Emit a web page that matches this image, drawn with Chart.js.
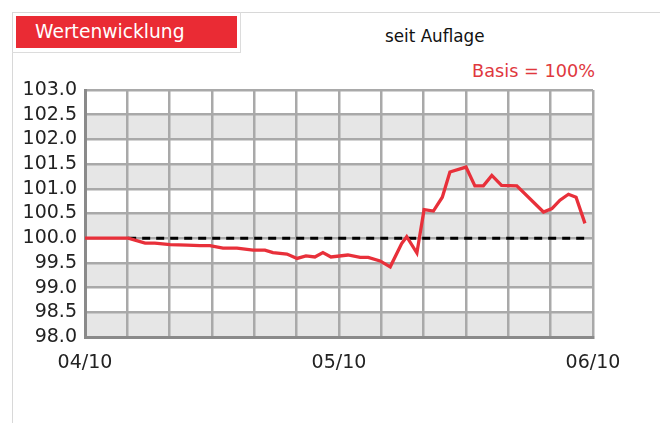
<!DOCTYPE html>
<html>
<head>
<meta charset="utf-8">
<script src="https://cdn.jsdelivr.net/npm/chart.js@4/dist/chart.umd.min.js"></script>
<style>
  body { margin: 0; background: #fff; font-family: "DejaVu Sans", Verdana, sans-serif; }
  #wrap { position: relative; width: 660px; height: 423px; overflow: hidden; }
  #panel { position: absolute; left: 12px; top: 12px; width: 660px; height: 420px;
           border-left: 1px solid #d8d8d8; border-top: 1px solid #d8d8d8; }
  #titelbox { position: absolute; left: 12px; top: 12px; width: 228px; height: 40px;
              border-right: 1px solid #dcdcdc; border-bottom: 1px solid #dcdcdc; }
  #titel { position: absolute; left: 16px; top: 16px; width: 221px; height: 32px;
           background: #ea2b34; color: #fff; font-size: 18.7px; line-height: 31px;
           padding-left: 19px; box-sizing: border-box; }
  #seit { position: absolute; left: 385px; top: 26px; font-size: 16.8px; color: #111; }
  #basis { position: absolute; right: 65px; top: 61px; font-size: 17.7px; color: #e0383e; }
  canvas { position: absolute; left: 0; top: 0; }
</style>
</head>
<body>
<div id="wrap">
  <div id="panel"></div>
  <div id="titelbox"></div>
  <div id="titel">Wertenwicklung</div>
  <div id="seit">seit Auflage</div>
  <div id="basis">Basis = 100%</div>
  <canvas id="grafico" width="660" height="423"></canvas>
</div>
<script>
// x-Position in Gitterschritten (6 Schritte = 1 Monat)
const zeitpunkte = [0, 1.02, 1.42, 1.65, 2.01, 2.41, 2.72, 2.95, 3.26, 3.59, 3.97, 4.25, 4.44, 4.77,
  5.01, 5.22, 5.43, 5.62, 5.81, 6.21, 6.5, 6.69, 6.97, 7.21, 7.48, 7.6, 7.84, 8.01, 8.23, 8.44,
  8.62, 9.0, 9.21, 9.41, 9.61, 9.84, 10.2, 10.83, 11.03, 11.22, 11.42, 11.6, 11.81];
const werte = [100.0, 100.0, 99.9, 99.9, 99.87, 99.86, 99.85, 99.85, 99.8, 99.8, 99.76, 99.76, 99.71, 99.68,
  99.59, 99.64, 99.62, 99.71, 99.62, 99.66, 99.61, 99.61, 99.54, 99.42, 99.89, 100.03, 99.7, 100.58, 100.55, 100.83,
  101.34, 101.44, 101.06, 101.06, 101.27, 101.07, 101.06, 100.53, 100.6, 100.77, 100.89, 100.83, 100.3];
const basisVon = 1.02;
const basisBis = 11.81;
const basis = 100;
const monatLabels = { 0: "04/10", 6: "05/10", 12: "06/10" };
const yMin = 98, yMax = 103, yStep = 0.5;

document.addEventListener("DOMContentLoaded", () => {
  const grafico = document.querySelector("#grafico");

  const baender = {
    id: "baender",
    beforeDraw(chart) {
      const { ctx, chartArea, scales } = chart;
      ctx.save();
      ctx.fillStyle = "#e6e6e6";
      for (let v = yMin; v < yMax; v += 1) {
        const top = scales.y.getPixelForValue(v + yStep);
        const bottom = scales.y.getPixelForValue(v);
        ctx.fillRect(chartArea.left, top, chartArea.right - chartArea.left, bottom - top);
      }
      ctx.restore();
    },
  };

  new Chart(grafico, {
    type: "line",
    data: {
      datasets: [
        {
          label: "Wertentwicklung",
          data: zeitpunkte.map((x, i) => ({ x: x, y: werte[i] })),
          borderColor: "#e8303a",
          borderWidth: 3.3,
          pointRadius: 0,
          tension: 0,
          order: 1,
        },
        {
          label: "Basis",
          data: [{ x: basisVon, y: basis }, { x: basisBis, y: basis }],
          borderColor: "#000",
          borderWidth: 3,
          borderDash: [8, 6],
          pointRadius: 0,
          order: 2,
        },
      ],
    },
    plugins: [baender],
    options: {
      responsive: false,
      animation: false,
      layout: { padding: { left: 0, top: 90, right: 67, bottom: 0 } },
      plugins: { legend: { display: false }, tooltip: { enabled: false } },
      scales: {
        x: {
          type: "linear",
          min: 0,
          max: 12,
          afterFit: (s) => { s.height = 86; },
          ticks: {
            stepSize: 1,
            autoSkip: false,
            maxRotation: 0,
            padding: 15,
            color: "#222",
            font: { family: "DejaVu Sans", size: 19 },
            callback: (v) => monatLabels[v] || "",
          },
          grid: { color: "#a9a9a9", lineWidth: 2.5, drawTicks: false },
          border: { color: "#8a8a8a", width: 3 },
        },
        y: {
          min: yMin,
          max: yMax,
          afterFit: (s) => { s.width = 85; },
          ticks: {
            stepSize: yStep,
            autoSkip: false,
            padding: 8,
            color: "#222",
            font: { family: "DejaVu Sans", size: 19 },
            callback: (v) => v.toFixed(1),
          },
          grid: { color: "#a9a9a9", lineWidth: 2.5, drawTicks: false },
          border: { color: "#8a8a8a", width: 3 },
        },
      },
    },
  });
});
</script>
</body>
</html>
